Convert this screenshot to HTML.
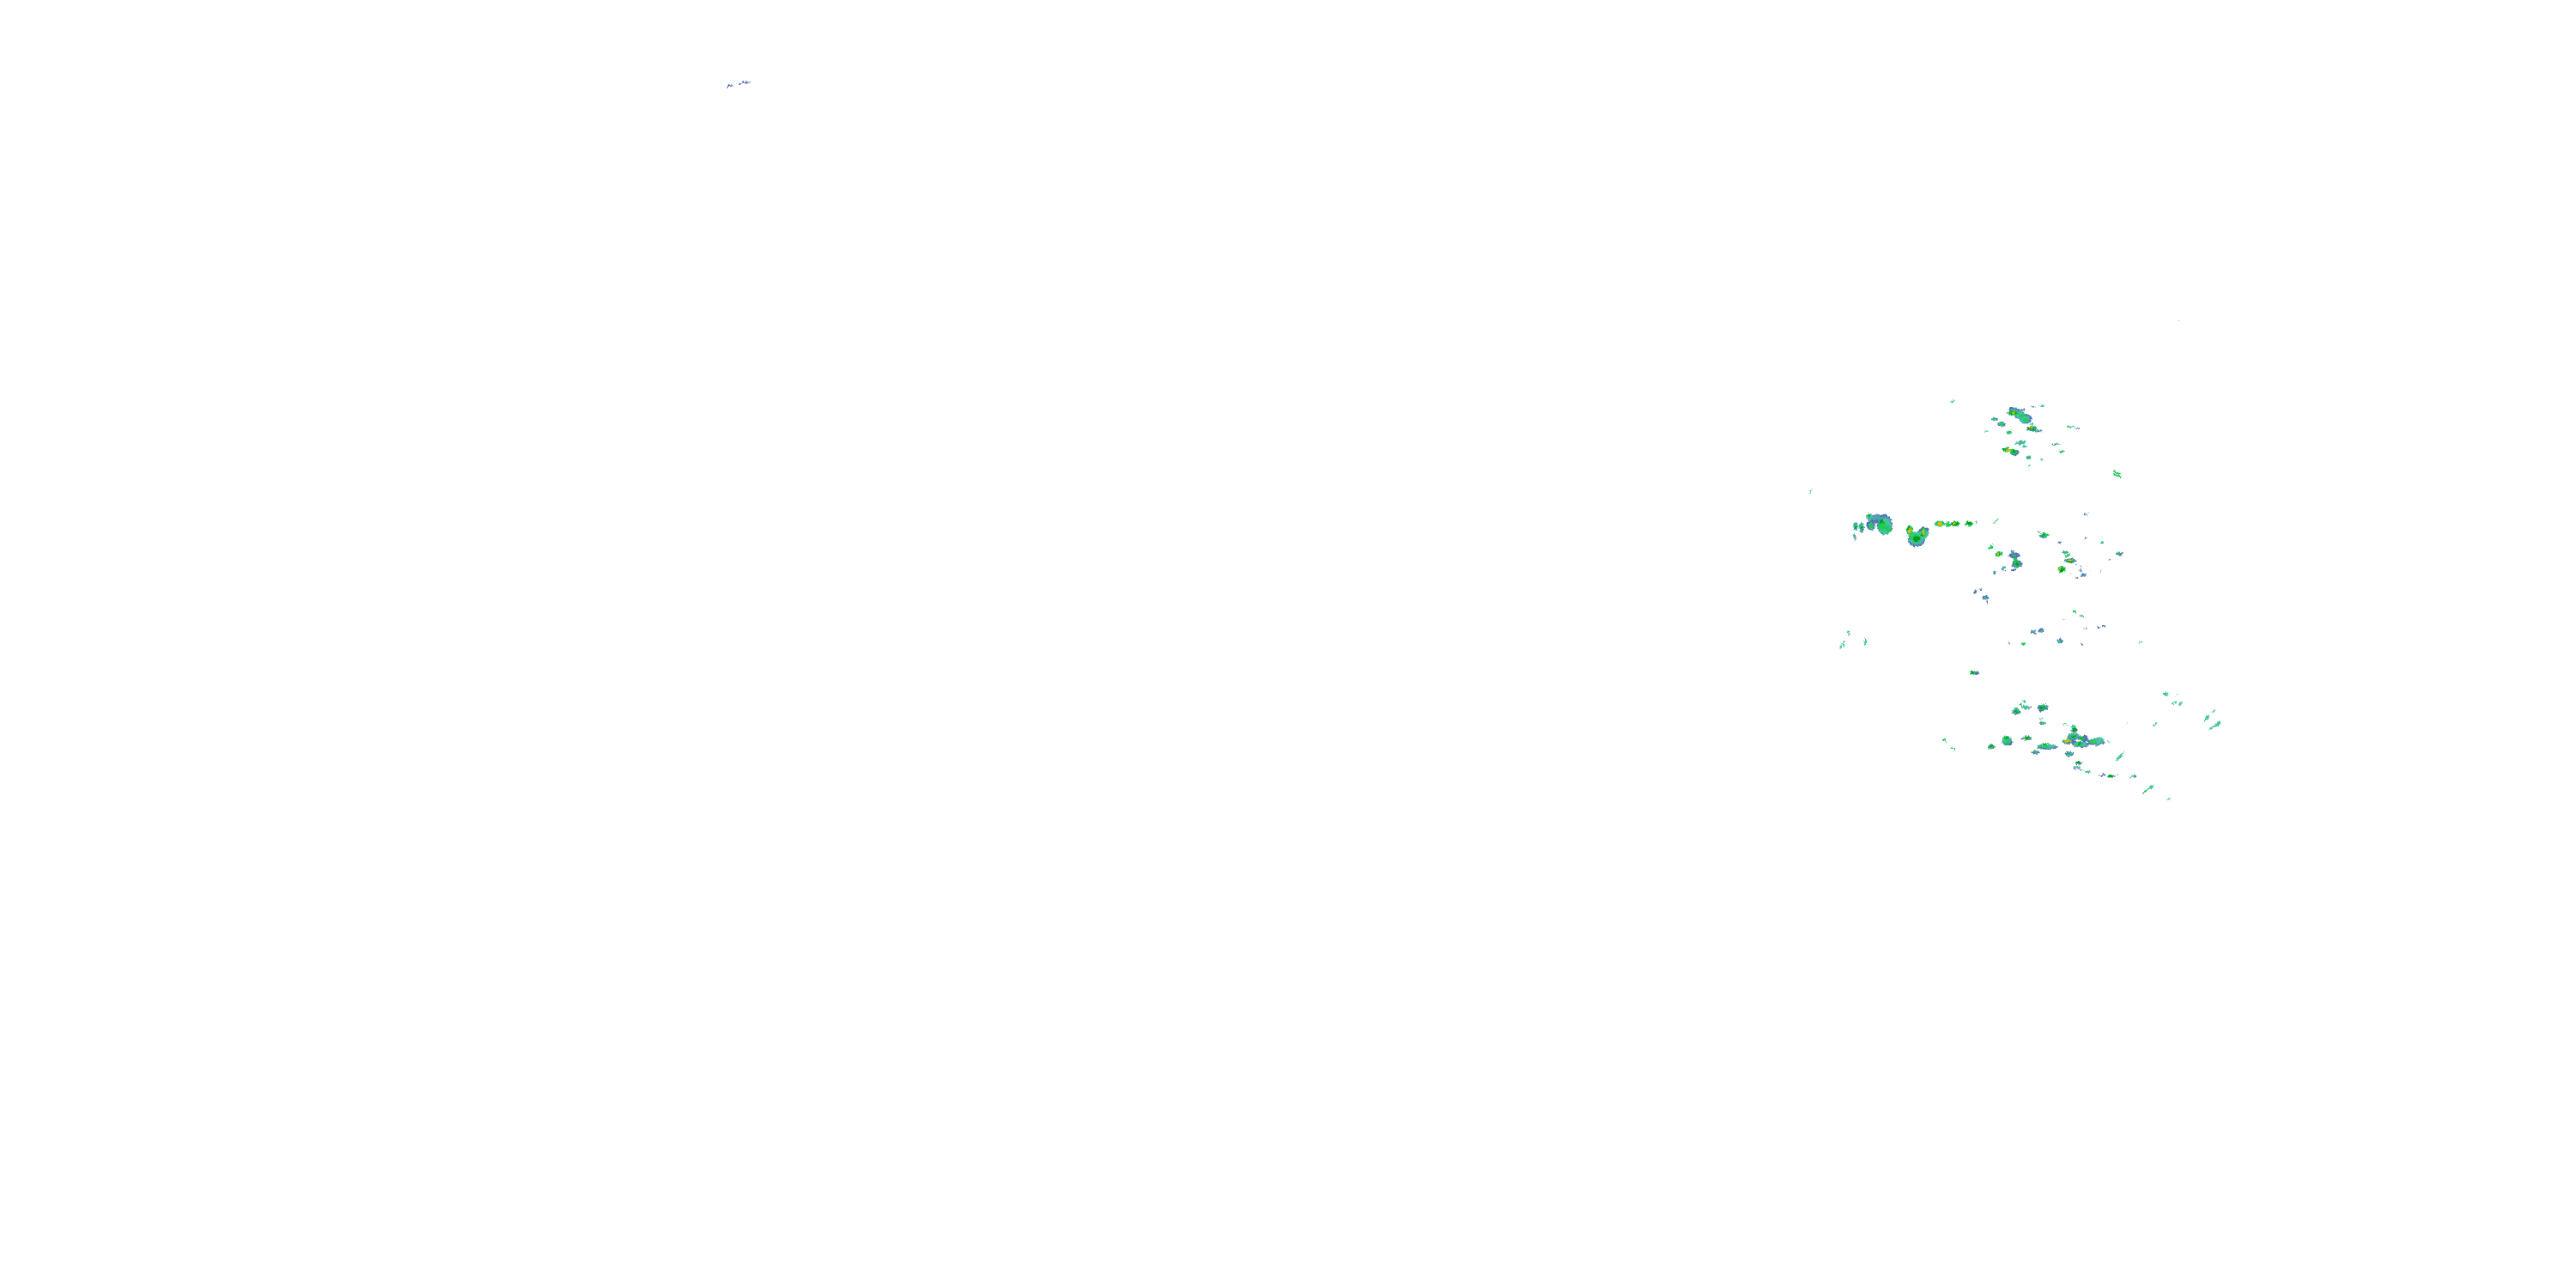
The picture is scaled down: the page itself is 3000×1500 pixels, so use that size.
<!DOCTYPE html>
<html><head><meta charset="utf-8"><title>Radar</title>
<style>html,body{margin:0;padding:0;background:#fff}svg{display:block}</style></head>
<body>
<svg xmlns="http://www.w3.org/2000/svg" width="3000" height="1500" viewBox="0 0 3000 1500" shape-rendering="crispEdges">
<defs>
<filter id="r" filterUnits="userSpaceOnUse" x="800" y="50" width="1850" height="950" color-interpolation-filters="sRGB">
<feTurbulence type="fractalNoise" baseFrequency="0.45" numOctaves="2" seed="7" result="n"/>
<feDisplacementMap in="SourceGraphic" in2="n" scale="5" xChannelSelector="R" yChannelSelector="G"/>
</filter>
</defs>
<rect width="3000" height="1500" fill="#fff"/>
<g filter="url(#r)">
<!-- blue outer -->
<g fill="#4f76b0">
<ellipse cx="849" cy="100" rx="2" ry="1.5"/><ellipse cx="852" cy="99.5" rx="1.5" ry="1"/><rect x="857" y="97" width="1" height="1"/><rect x="861" y="97" width="3" height="1"/><rect x="864" y="95" width="10" height="2"/>
<ellipse cx="2195" cy="611" rx="9" ry="12"/><ellipse cx="2186" cy="604" rx="9" ry="5"/><ellipse cx="2179" cy="612" rx="5" ry="6"/><ellipse cx="2160" cy="625" rx="1.5" ry="4"/>
<ellipse cx="2232" cy="628" rx="10" ry="9"/><ellipse cx="2240" cy="620" rx="6" ry="7" transform="rotate(35 2240 620)"/>
<ellipse cx="2346" cy="647" rx="6" ry="3.5"/><ellipse cx="2349" cy="657" rx="6" ry="4.5"/><rect x="2342" y="663" width="5" height="2"/><rect x="2342" y="641" width="4" height="2"/><rect x="2342" y="658" width="3" height="2"/>
<ellipse cx="2333" cy="662" rx="2" ry="3"/><ellipse cx="2380" cy="624" rx="5" ry="2.5"/><rect x="2373" y="619" width="4" height="1"/><rect x="2397" y="631" width="3" height="2"/>
<ellipse cx="2405" cy="643" rx="3.5" ry="1.5"/><ellipse cx="2411" cy="653" rx="7" ry="2.5"/><rect x="2417" y="657" width="2" height="1"/><rect x="2423" y="661" width="1" height="5"/><ellipse cx="2427" cy="670" rx="3" ry="2"/><rect x="2417" y="672" width="4" height="2"/>
<rect x="2427" y="599" width="4" height="1"/><rect x="2428" y="597" width="1" height="2"/><rect x="2428" y="626" width="3" height="1"/><rect x="2456" y="650" width="1" height="3"/><ellipse cx="2468" cy="645" rx="4" ry="2"/><rect x="2447" y="665" width="1" height="1"/>
<rect x="2359" y="674" width="1" height="1"/><rect x="2423" y="659" width="1" height="1"/><rect x="2430" y="659" width="1" height="1"/><rect x="2411" y="667" width="1" height="1"/><rect x="2420" y="663" width="1" height="1"/><rect x="2435" y="664" width="1" height="1"/>
<rect x="2299" y="688" width="2" height="4"/><rect x="2301" y="687" width="1" height="2"/><rect x="2306" y="685" width="2" height="2"/><ellipse cx="2312" cy="696" rx="3.5" ry="2.5"/><rect x="2314" y="697" width="1" height="7"/>
<rect x="2422" y="717" width="4" height="1"/><rect x="2403" y="721" width="1" height="1"/><rect x="2427" y="731" width="3" height="1"/><rect x="2442" y="730" width="4" height="2"/><rect x="2448" y="728" width="4" height="2"/>
<ellipse cx="2368" cy="736" rx="3" ry="2"/><ellipse cx="2377" cy="734" rx="3" ry="2"/><ellipse cx="2399" cy="747" rx="4" ry="2"/><rect x="2399" y="742" width="1" height="3"/><rect x="2339" y="748" width="2" height="2"/><rect x="2407" y="750" width="1" height="1"/><rect x="2423" y="750" width="3" height="1"/>
<ellipse cx="2301" cy="784" rx="4" ry="1.5"/>
<ellipse cx="2352" cy="483" rx="15" ry="5" transform="rotate(35 2352 483)"/><ellipse cx="2359" cy="488" rx="7" ry="6"/><rect x="2344" y="476" width="14" height="2"/><rect x="2337" y="480" width="6" height="1"/>
<ellipse cx="2323" cy="488" rx="4" ry="2"/><ellipse cx="2331" cy="494" rx="5" ry="2.5"/><rect x="2366" y="473" width="4" height="1"/><ellipse cx="2366" cy="499" rx="6" ry="3"/><ellipse cx="2373" cy="502" rx="5" ry="1.5"/><rect x="2336" y="505" width="3" height="1"/>
<rect x="2416" y="498" width="6" height="1"/><rect x="2350" y="517" width="4" height="1"/><ellipse cx="2354" cy="515" rx="4" ry="2"/><ellipse cx="2346" cy="527" rx="5" ry="3.5"/><rect x="2390" y="517" width="10" height="1"/><rect x="2398" y="525" width="6" height="1"/><ellipse cx="2363" cy="533" rx="3" ry="2"/>
<ellipse cx="2379" cy="824" rx="6" ry="4"/><ellipse cx="2348" cy="829" rx="5" ry="3"/><ellipse cx="2361" cy="824" rx="4" ry="2"/><rect x="2351" y="820" width="4" height="1"/><rect x="2375" y="828" width="3" height="1"/><ellipse cx="2379" cy="842" rx="4" ry="2"/>
<ellipse cx="2338" cy="864" rx="6" ry="4"/><ellipse cx="2360" cy="860" rx="6" ry="2"/><ellipse cx="2384" cy="870" rx="12" ry="3"/><ellipse cx="2371" cy="876" rx="5" ry="2"/><ellipse cx="2319" cy="870" rx="4" ry="2"/>
<ellipse cx="2415" cy="858" rx="8" ry="4"/><ellipse cx="2410" cy="864" rx="9" ry="2.5"/><ellipse cx="2423" cy="867" rx="10" ry="3.5"/><ellipse cx="2428" cy="860" rx="4" ry="4"/><ellipse cx="2441" cy="864" rx="10" ry="4"/><ellipse cx="2416" cy="851" rx="4" ry="2"/><ellipse cx="2410" cy="878" rx="5" ry="3"/><ellipse cx="2421" cy="889" rx="4" ry="1.5"/><rect x="2415" y="893" width="8" height="2"/><rect x="2421" y="896" width="5" height="1"/>
<rect x="2444" y="903" width="7" height="1"/><rect x="2449" y="901" width="3" height="2"/><ellipse cx="2459" cy="904" rx="5" ry="1.5"/><rect x="2466" y="902" width="1" height="1"/><rect x="2484" y="903" width="4" height="2"/><rect x="2477" y="842" width="1" height="1"/><rect x="2454" y="863" width="3" height="1"/>
</g>
<!-- steel / mid -->
<g fill="#4fa3b4">
<ellipse cx="2177" cy="602" rx="4" ry="4"/><ellipse cx="2161" cy="613" rx="3" ry="5"/><ellipse cx="2168" cy="614" rx="3" ry="6"/><ellipse cx="2185" cy="603" rx="5" ry="3"/><ellipse cx="2195" cy="612" rx="8" ry="11"/>
<ellipse cx="2232" cy="627" rx="9" ry="8"/><ellipse cx="2333" cy="661" rx="2.5" ry="2"/><ellipse cx="2323" cy="667" rx="2" ry="1.5"/>
<ellipse cx="2312" cy="696" rx="2" ry="2"/><ellipse cx="2427" cy="670" rx="2" ry="1.5"/><ellipse cx="2423" cy="665" rx="1.5" ry="2"/>
<ellipse cx="2352" cy="483" rx="12" ry="4.5" transform="rotate(30 2352 483)"/><ellipse cx="2358" cy="488" rx="6" ry="5"/>
<ellipse cx="2337" cy="863" rx="5" ry="4"/><ellipse cx="2384" cy="869" rx="11" ry="2.5"/><ellipse cx="2423" cy="867" rx="9" ry="3"/><ellipse cx="2442" cy="863" rx="9" ry="3.5"/><ellipse cx="2415" cy="857" rx="7" ry="3.5"/>
<ellipse cx="2379" cy="823" rx="5" ry="3.5"/><ellipse cx="2348" cy="828" rx="4" ry="3.5"/>
</g>
<!-- teal -->
<g fill="#45c69b">
<path d="M2107 575l3-7 1 1-3 7z"/><ellipse cx="2302" cy="608" rx="1.5" ry="1"/>
<ellipse cx="2177" cy="602" rx="3" ry="3"/><ellipse cx="2179" cy="612" rx="3" ry="4"/><ellipse cx="2195" cy="613" rx="7" ry="9"/><ellipse cx="2161" cy="613" rx="2" ry="4"/><ellipse cx="2168" cy="614" rx="2" ry="4"/><ellipse cx="2160" cy="624" rx="1" ry="2"/>
<ellipse cx="2231" cy="626" rx="8" ry="7"/><ellipse cx="2241" cy="622" rx="5" ry="5"/>
<path d="M2146 747h2v6h-2zM2152 734h2v7h-2zM2171 744h3v7h-3zM2143 750h2v5h-2z"/>
<ellipse cx="2333" cy="661" rx="2" ry="1.2"/><ellipse cx="2368" cy="736" rx="1.5" ry="1"/><ellipse cx="2377" cy="735" rx="1.5" ry="1"/><ellipse cx="2398" cy="747" rx="2.5" ry="1.2"/><ellipse cx="2356" cy="750" rx="3" ry="1.5"/><ellipse cx="2423" cy="717" rx="1.5" ry="0.7"/>
<rect x="2432" y="596" width="1" height="1"/>
<path d="M2270 468l6-2 1 1-7 2z"/><ellipse cx="2378" cy="473" rx="3" ry="1"/><ellipse cx="2323" cy="488" rx="3" ry="1.5"/><ellipse cx="2331" cy="494" rx="3" ry="2"/><ellipse cx="2366" cy="494" rx="2.5" ry="1"/><ellipse cx="2373" cy="502" rx="2.5" ry="1"/><ellipse cx="2340" cy="504" rx="3" ry="1.5"/><rect x="2311" y="502" width="4" height="1"/>
<ellipse cx="2353" cy="484" rx="9" ry="4" transform="rotate(30 2353 484)"/><ellipse cx="2358" cy="488" rx="5" ry="4"/>
<ellipse cx="2350" cy="516" rx="3" ry="1.5"/><ellipse cx="2356" cy="515" rx="3" ry="2"/><ellipse cx="2358" cy="520" rx="2.5" ry="1"/><ellipse cx="2363" cy="532" rx="2" ry="1.5"/><ellipse cx="2337" cy="524" rx="5" ry="2.5"/>
<ellipse cx="2379" cy="823" rx="4" ry="3"/><ellipse cx="2348" cy="827" rx="3" ry="3"/><ellipse cx="2361" cy="824" rx="3" ry="1.5"/><ellipse cx="2377" cy="837" rx="2.5" ry="1"/><ellipse cx="2379" cy="842" rx="3" ry="1.5"/>
<ellipse cx="2337" cy="864" rx="4" ry="3"/><ellipse cx="2384" cy="869" rx="10" ry="2"/><ellipse cx="2371" cy="876" rx="3" ry="1.5"/><ellipse cx="2422" cy="867" rx="7" ry="2.5"/><ellipse cx="2441" cy="864" rx="7" ry="2.5"/><ellipse cx="2446" cy="861" rx="3" ry="2.5"/><ellipse cx="2415" cy="857" rx="5" ry="2.5"/><ellipse cx="2415" cy="847" rx="3" ry="2"/><ellipse cx="2410" cy="878" rx="3.5" ry="2"/><ellipse cx="2419" cy="893" rx="3" ry="1"/><ellipse cx="2431" cy="899" rx="4" ry="1"/><ellipse cx="2424" cy="896" rx="2" ry="0.7"/>
<path d="M2462 886l2-1 6-7 3-3 1 1-3 6-5 3-3 1z"/><path d="M2479 905l6-2 2 1-6 2zM2498 921l6-6 4-1v3l-6 3-3 2z"/><path d="M2522 932l3-2 3-1 1 1-5 3zM2518 808l4-2 5 2-3 1-1 2zM2534 811l2-3 1 1zM2529 820l5-4 1 1-5 4zM2537 821l2-3 3-1-1 2-2 3zM2575 830l4-4 2 1-5 4zM2566 839l6-7 2 1-3 5-4 2zM2572 850l9-7 4-3 1 1-2 4-8 3-3 3z"/>
<rect x="2454" y="863" width="4" height="1"/>
</g>
<!-- green -->
<g fill="#22c95d">
<ellipse cx="2177" cy="601" rx="2" ry="2"/><ellipse cx="2179" cy="612" rx="2" ry="3"/><ellipse cx="2161" cy="613" rx="1.5" ry="3"/><ellipse cx="2168" cy="614" rx="1.5" ry="3"/><ellipse cx="2192" cy="612" rx="5" ry="6"/><ellipse cx="2199" cy="616" rx="3" ry="4"/>
<ellipse cx="2231" cy="627" rx="6" ry="5"/><ellipse cx="2224" cy="618" rx="3.5" ry="6"/><ellipse cx="2240" cy="620" rx="3" ry="5"/>
<ellipse cx="2259" cy="610" rx="6" ry="3.5"/><ellipse cx="2277" cy="610" rx="5.5" ry="3"/><ellipse cx="2269" cy="611" rx="3" ry="2.5"/><ellipse cx="2293" cy="610" rx="4.5" ry="3"/>
<path d="M2321 609l4-4 2-1-1 3-3 2-1 1zM2315 639l3-3 3-2-1 4-3 2z"/><ellipse cx="2328" cy="645" rx="4" ry="3"/><ellipse cx="2347" cy="652" rx="2" ry="2.5"/><ellipse cx="2349" cy="657" rx="4" ry="3"/><ellipse cx="2346" cy="647" rx="2" ry="1"/>
<ellipse cx="2381" cy="623" rx="5" ry="2.5"/><ellipse cx="2405" cy="643" rx="2.5" ry="1"/><path d="M2404 648l5-3 3-1-3 4-3 1z"/><ellipse cx="2411" cy="653" rx="5" ry="2"/><ellipse cx="2401" cy="663" rx="4" ry="4"/><ellipse cx="2448" cy="632" rx="2.5" ry="1.5"/><ellipse cx="2467" cy="645" rx="2" ry="1.5"/>
<ellipse cx="2416" cy="712.5" rx="2" ry="1.5"/><ellipse cx="2356" cy="750" rx="2" ry="1"/><ellipse cx="2400" cy="747" rx="1.5" ry="0.8"/><path d="M2490 749l3-2 1 0-2 2z"/><ellipse cx="2297" cy="783" rx="4" ry="2"/>
<path d="M2461 548l6 2 4 2-3 1-5-2z"/><path d="M2362 542l2-1 1 0-1 2z"/>
<ellipse cx="2345" cy="481" rx="6" ry="3"/><ellipse cx="2355" cy="484" rx="4" ry="2"/><ellipse cx="2359" cy="489" rx="3" ry="2"/><ellipse cx="2323" cy="488" rx="2" ry="1"/><ellipse cx="2331" cy="494" rx="2" ry="1.5"/><ellipse cx="2366" cy="499" rx="5" ry="2.5"/><ellipse cx="2340" cy="503" rx="2" ry="1.5"/>
<ellipse cx="2411" cy="497" rx="4" ry="1"/><ellipse cx="2395" cy="517" rx="2" ry="1"/><ellipse cx="2401" cy="526" rx="2.5" ry="1.2"/><ellipse cx="2378" cy="535" rx="2" ry="1"/><ellipse cx="2338" cy="524" rx="5" ry="2.5"/><ellipse cx="2345" cy="526" rx="4" ry="3"/><path d="M2361 543l3-1 1 0-3 2z"/><ellipse cx="2363" cy="534" rx="2" ry="1.5"/>
<path d="M2461 551l5 2 5 2-2 1-7-2z"/>
<path d="M2263 860l5 4-1 1-5-3zM2272 870l5 2-1 1-5-2zM2355 814l5 3-3 2zM2507 845l4-4 1 1-3 3z"/>
<ellipse cx="2357" cy="823" rx="2" ry="2"/><ellipse cx="2379" cy="824" rx="4" ry="2"/><ellipse cx="2348" cy="828" rx="3" ry="2"/><ellipse cx="2377" cy="842" rx="2.5" ry="1.2"/><ellipse cx="2319" cy="869" rx="3" ry="2.5"/><ellipse cx="2337" cy="859" rx="5" ry="2"/><ellipse cx="2337" cy="865" rx="3" ry="2"/><ellipse cx="2360" cy="859" rx="4.5" ry="2"/><ellipse cx="2381" cy="869" rx="5" ry="2"/><ellipse cx="2371" cy="876" rx="2" ry="1"/>
<ellipse cx="2407" cy="863" rx="6" ry="2"/><ellipse cx="2416" cy="850" rx="3" ry="2.5"/><ellipse cx="2415" cy="857" rx="4" ry="1.5"/><ellipse cx="2424" cy="860" rx="3" ry="2"/><ellipse cx="2422" cy="867" rx="3.5" ry="2"/><ellipse cx="2438" cy="864" rx="4" ry="2.5"/><ellipse cx="2420" cy="888" rx="3" ry="1.2"/><ellipse cx="2409" cy="878" rx="2" ry="1.5"/><rect x="2402" y="843" width="6" height="1"/><ellipse cx="2458" cy="904" rx="3.5" ry="1.5"/><path d="M2493 924l5-3 3-1-2 3-4 1z"/><path d="M2431 900l-3-1h7z"/>
</g>
<!-- dark green -->
<g fill="#009a1e">
<ellipse cx="2177" cy="601" rx="1" ry="1"/><ellipse cx="2191" cy="608" rx="2" ry="2.5"/><ellipse cx="2161" cy="614" rx="1" ry="2"/><ellipse cx="2168" cy="615" rx="1" ry="2"/><ellipse cx="2232" cy="628" rx="4" ry="3.5"/><ellipse cx="2223" cy="615" rx="2" ry="2"/><ellipse cx="2238" cy="623" rx="1.5" ry="1.5"/>
<ellipse cx="2277" cy="610" rx="4" ry="2"/><ellipse cx="2293" cy="609.5" rx="3" ry="2"/><ellipse cx="2349" cy="657" rx="2.5" ry="1.5"/><ellipse cx="2328" cy="645" rx="2.5" ry="1.5"/><ellipse cx="2411" cy="654" rx="3" ry="1"/><ellipse cx="2401" cy="664" rx="2.5" ry="2.5"/><ellipse cx="2380" cy="623" rx="2" ry="1.2"/><ellipse cx="2297" cy="783" rx="2" ry="1.3"/><path d="M2462 549l4 1 2 2-3-1z"/>
<ellipse cx="2345" cy="481" rx="5" ry="1.5"/><ellipse cx="2366" cy="499" rx="3.5" ry="1.5"/><ellipse cx="2345" cy="526" rx="2.5" ry="1.5"/><ellipse cx="2364" cy="534" rx="1" ry="1"/><ellipse cx="2334" cy="523" rx="2" ry="1"/>
<ellipse cx="2379" cy="824" rx="3" ry="1.2"/><ellipse cx="2348" cy="829" rx="2" ry="1"/><ellipse cx="2337" cy="859" rx="3" ry="1"/><ellipse cx="2360" cy="859" rx="2.5" ry="1"/><ellipse cx="2381" cy="866" rx="2.5" ry="1"/><ellipse cx="2319" cy="869" rx="1.5" ry="1"/><ellipse cx="2371" cy="876" rx="1" ry="0.8"/><ellipse cx="2416" cy="850" rx="2" ry="2"/><ellipse cx="2415" cy="858" rx="3" ry="1"/><ellipse cx="2424" cy="860" rx="2" ry="1"/><ellipse cx="2422" cy="866" rx="2" ry="1.2"/><ellipse cx="2420" cy="888" rx="2" ry="0.8"/><ellipse cx="2458" cy="904.5" rx="2.5" ry="1"/><path d="M2494 924l4-2 1 1-4 1zM2508 844l2-2 0 1-1 1z"/><ellipse cx="2410" cy="878" rx="1" ry="1"/>
</g>
<!-- yellow / orange -->
<g fill="#f2b705">
<ellipse cx="2224" cy="618" rx="1.5" ry="3.5"/><ellipse cx="2240" cy="620" rx="1.5" ry="3"/><ellipse cx="2259" cy="610" rx="3" ry="2"/><ellipse cx="2276" cy="610" rx="1.5" ry="1"/><ellipse cx="2327" cy="645" rx="1" ry="1"/><ellipse cx="2411" cy="652.5" rx="2" ry="0.8"/><ellipse cx="2399" cy="662" rx="1" ry="1.3"/>
<ellipse cx="2345" cy="481" rx="2.5" ry="1"/><ellipse cx="2366" cy="498" rx="1.5" ry="1"/><ellipse cx="2339" cy="524" rx="3" ry="1.5"/>
<ellipse cx="2408" cy="863" rx="4" ry="1"/><ellipse cx="2358" cy="858.5" rx="1" ry="0.8"/><ellipse cx="2438" cy="864" rx="1" ry="0.8"/>
</g>
</g>
<rect x="2537" y="373" width="1" height="1" fill="#9bb"/>
</svg>
</body></html>
